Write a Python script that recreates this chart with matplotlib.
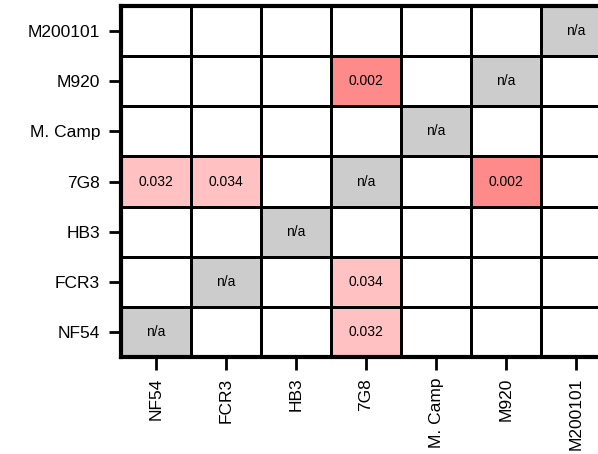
import numpy as np
import matplotlib
matplotlib.use("Agg")
import matplotlib.pyplot as plt
from matplotlib.colors import ListedColormap, BoundaryNorm

plt.rcParams['font.family'] = ['Liberation Sans', 'DejaVu Sans']

strains = ["NF54", "FCR3", "HB3", "7G8", "M. Camp", "M920", "M200101"]

# p-values between strains (row, col) ; diagonal = n/a
pvals = {
    ("NF54", "7G8"): 0.032,
    ("FCR3", "7G8"): 0.034,
    ("7G8", "NF54"): 0.032,
    ("7G8", "FCR3"): 0.034,
    ("7G8", "M920"): 0.002,
    ("M920", "7G8"): 0.002,
}

n = len(strains)
# 0 = blank, 1 = p<0.05, 2 = p<0.01, 3 = n/a
codes = np.zeros((n, n))
labels = [["" for _ in range(n)] for _ in range(n)]
for i, r in enumerate(strains):
    for j, c in enumerate(strains):
        if i == j:
            codes[i, j] = 3
            labels[i][j] = "n/a"
        elif (r, c) in pvals:
            p = pvals[(r, c)]
            codes[i, j] = 2 if p < 0.01 else 1
            labels[i][j] = f"{p:.3f}"

cmap = ListedColormap(["#FFFFFF", "#FFC1C1", "#FF8A8A", "#CCCCCC"])
norm = BoundaryNorm([-0.5, 0.5, 1.5, 2.5, 3.5], cmap.N)

fig = plt.figure(figsize=(5.98, 4.54), dpi=100)
ax = fig.add_axes([121 / 598, 97 / 454, 490 / 598, 351 / 454])
ax.pcolormesh(np.arange(n + 1), np.arange(n + 1), codes, cmap=cmap, norm=norm,
              edgecolors="black", linewidth=2)

for i in range(n):
    for j in range(n):
        if labels[i][j]:
            ax.text(j + 0.5, i + 0.5, labels[i][j], ha="center", va="center",
                    fontsize=10, color="black")

ax.set_xlim(0, n)
ax.set_ylim(0, n)
ax.set_xticks(np.arange(n) + 0.5)
ax.set_yticks(np.arange(n) + 0.5)
ax.set_xticklabels(strains, rotation=90, fontsize=12.5)
ax.set_yticklabels(strains, fontsize=12.5)
ax.tick_params(length=9, width=2, pad=6)
for s in ax.spines.values():
    s.set_linewidth(3)

fig.savefig("out.png", dpi=100)
